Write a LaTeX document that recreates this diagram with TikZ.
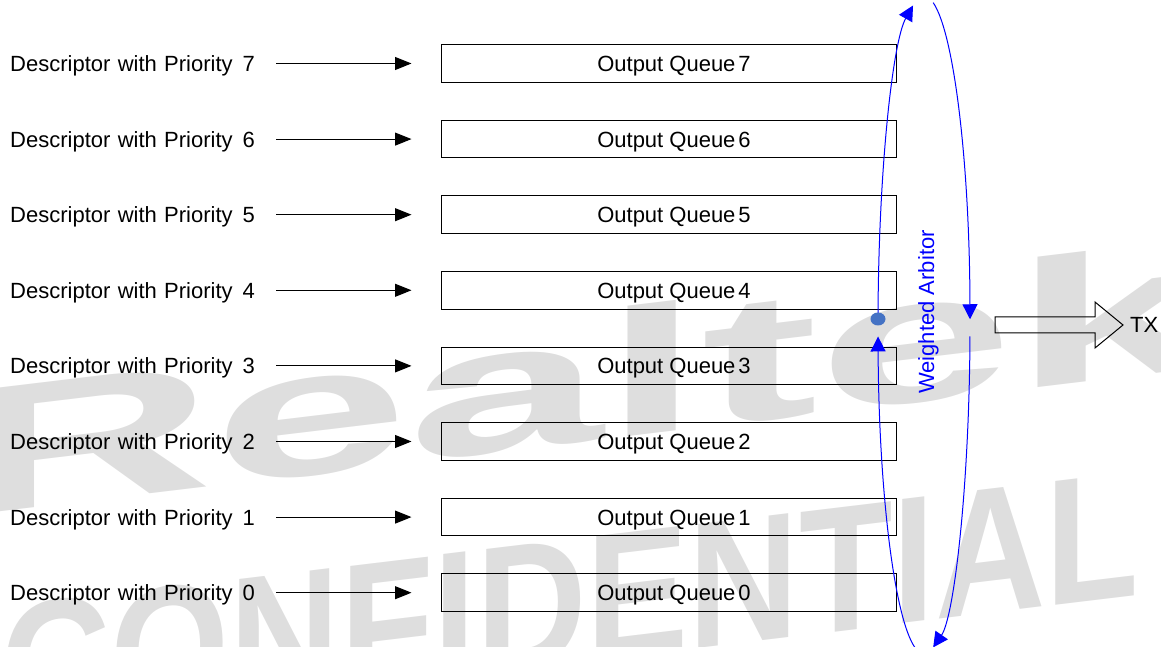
\documentclass[tikz,border=0pt]{standalone}
\usepackage{fontspec}
\setmainfont{Liberation Sans}
\usepackage{graphicx}
\usetikzlibrary{arrows.meta}
\definecolor{wm}{RGB}{222,222,222}
\definecolor{dotblue}{RGB}{68,114,196}
\begin{document}
\begin{tikzpicture}[x=1pt,y=1pt,
  txt/.style={font=\fontsize{22}{26}\selectfont},
  lbl/.style={txt, anchor=west, inner sep=0pt, text width=266pt, align=left, text height=16pt, text depth=0pt},
  queue/.style={txt, draw=black, line width=1pt, minimum width=455pt, minimum height=37.5pt, inner sep=0pt, text height=16pt, text depth=0pt},
  feed/.style={line width=1pt, -{Triangle[length=16.5pt,width=13pt]}, shorten >=29pt},
  arb/.style={blue, line width=1pt, -{Triangle[length=15pt,width=15pt]}},
  wmark/.style={transform shape, anchor=base west, inner sep=0pt, text=wm, font=\fontsize{180}{180}\selectfont\bfseries}
]
\clip (0,0) rectangle (1161,647);
% watermark
\begin{scope}[yslant=0.12]
  \node[wmark] (wm1) at (-40,135) {\scalebox{1.95}[1]{Realtek}};
  \node[wmark] (wm2) at (0,-85) {\scalebox{0.85}[1]{CONFIDENTIAL}};
\end{scope}
% rows
\foreach \i in {0,...,7} {
  \pgfmathsetmacro{\yy}{583.5-(7-\i)*75.6}
  \node[lbl] (d\i) at (10,\yy) {Descriptor with Priority\hspace{10pt}\i};
  \node[queue] (q\i) at (668.5,\yy) {\hspace*{11pt}Output Queue\hspace{3pt}\i};
  \draw[feed] (d\i.east) -- (q\i.west);
}
% weighted arbitor
\coordinate (C) at (924,322);
\draw[arb] ([shift={(179:46pt and 329pt)}]C) arc[start angle=179,end angle=103.8,x radius=46pt,y radius=329pt];
\draw[arb] ([shift={(262:46pt and 329pt)}]C) arc[start angle=262,end angle=182,x radius=46pt,y radius=329pt];
\draw[arb] ([shift={(78.5:46pt and 329pt)}]C) arc[start angle=78.5,end angle=1,x radius=46pt,y radius=329pt];
\draw[arb] ([shift={(-2:46pt and 329pt)}]C) arc[start angle=-2,end angle=-78.5,x radius=46pt,y radius=329pt];
\fill[dotblue] (878,328) ellipse[x radius=7.5pt, y radius=6.5pt];
\node[txt, rotate=90, anchor=base, text=blue, inner sep=0pt] (arbtxt) at (934,335) {Weighted Arbitor};
% TX output arrow
\draw[line width=1pt] (995,330) -- (1095,330) -- (1095,345) -- (1123,322) -- (1095,299) -- (1095,314) -- (995,314) -- cycle;
\node[txt, anchor=west, inner sep=0pt, text height=16pt, text depth=0pt] (tx) at (1130,322) {TX};
\end{tikzpicture}
\end{document}
